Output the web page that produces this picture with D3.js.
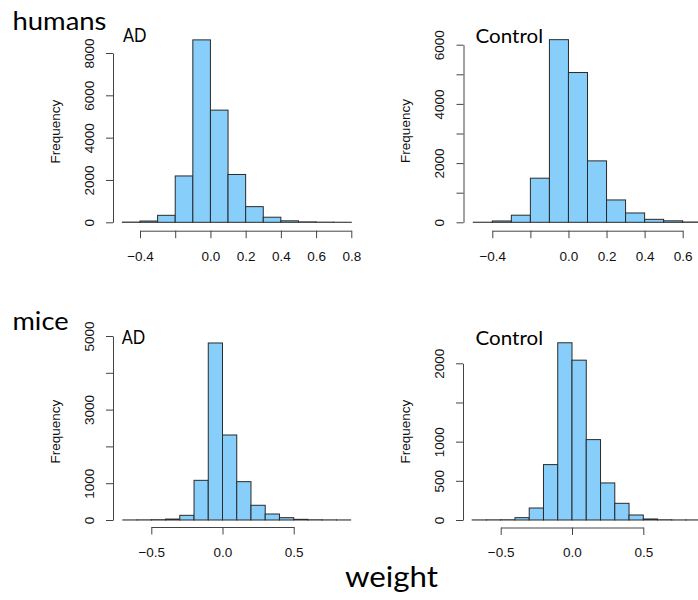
<!DOCTYPE html>
<html><head><meta charset="utf-8">
<script src="https://cdn.jsdelivr.net/npm/d3@7"></script>
<style>body{margin:0;background:#fff;overflow:hidden}</style>
</head><body>
<svg id="chart" width="698" height="600"></svg>
<script>
// ---- data ----
const humansADEdges = [-0.5,-0.4,-0.3,-0.2,-0.1,0.0,0.1,0.2,0.3,0.4,0.5,0.6,0.7,0.8];
const humansADCounts = [10,60,330,2190,8620,5300,2260,740,240,70,20,8,3];
const humansControlEdges = [-0.5,-0.4,-0.3,-0.2,-0.1,0.0,0.1,0.2,0.3,0.4,0.5,0.6,0.7];
const humansControlCounts = [3,45,240,1490,6170,5060,2075,755,315,100,50,10];
const miceEdges = [-0.7,-0.6,-0.5,-0.4,-0.3,-0.2,-0.1,0.0,0.1,0.2,0.3,0.4,0.5,0.6,0.7,0.8,0.9];
const miceADCounts = [2,4,8,25,127,1078,4810,2310,1042,400,163,63,18,6,3,2];
const miceControlCounts = [1,2,3,30,153,707,2262,2040,1026,473,213,64,13,3,1,1];

const humansADYTicks = [0,2000,4000,6000,8000];
const humansADYLabels = [0,2000,4000,6000,8000];
const humansADXTicks = [-0.4,-0.2,0.0,0.2,0.4,0.6,0.8];
const humansADXLabels = [-0.4,0.0,0.2,0.4,0.6,0.8];
const humansControlYTicks = [0,1000,2000,3000,4000,5000,6000];
const humansControlYLabels = [0,2000,4000,6000];
const humansControlXTicks = [-0.4,-0.2,0.0,0.2,0.4,0.6];
const humansControlXLabels = [-0.4,0.0,0.2,0.4,0.6];
const miceADYTicks = [0,1000,2000,3000,4000,5000];
const miceADYLabels = [0,1000,3000,5000];
const miceControlYTicks = [0,500,1000,1500,2000];
const miceControlYLabels = [0,500,1000,2000];
const miceXTicks = [-0.5,0.0,0.5];
const miceXLabels = [-0.5,0.0,0.5];

const groupLabels = ["humans","mice"];
const panelTitles = ["AD","Control","AD","Control"];
const yTitle = "Frequency";
const xTitle = "weight";

// ---- layout ----
const panels = [
  {edges:humansADEdges, counts:humansADCounts, title:panelTitles[0],
   yTicks:humansADYTicks, yLabels:humansADYLabels, xTicks:humansADXTicks, xLabels:humansADXLabels,
   xDomain:[-0.4,0.8], xRange:[140,351.3], yDomain:[0,8000], yRange:[222.3,53],
   axisX:113, axisY:230.7, yLabX:93.5, xLabY:261.5, freqX:60, freqY:131.7, titleX:123, titleY:41.7},
  {edges:humansControlEdges, counts:humansControlCounts, title:panelTitles[1],
   yTicks:humansControlYTicks, yLabels:humansControlYLabels, xTicks:humansControlXTicks, xLabels:humansControlXLabels,
   xDomain:[-0.4,0.6], xRange:[492.3,682.7], yDomain:[0,6000], yRange:[222.3,44.7],
   axisX:463.5, axisY:230.7, yLabX:443.5, xLabY:261.5, freqX:410, freqY:131, titleX:475.5, titleY:42.7},
  {edges:miceEdges, counts:miceADCounts, title:panelTitles[2],
   yTicks:miceADYTicks, yLabels:miceADYLabels, xTicks:miceXTicks, xLabels:miceXLabels,
   xDomain:[-0.5,0.5], xRange:[151.3,293.7], yDomain:[0,5000], yRange:[520,336],
   axisX:113, axisY:527, yLabX:94, xLabY:556.5, freqX:60, freqY:431.7, titleX:121.7, titleY:344.3},
  {edges:miceEdges, counts:miceControlCounts, title:panelTitles[3],
   yTicks:miceControlYTicks, yLabels:miceControlYLabels, xTicks:miceXTicks, xLabels:miceXLabels,
   xDomain:[-0.5,0.5], xRange:[500.7,643.3], yDomain:[0,2000], yRange:[520,363.3],
   axisX:463, axisY:527.5, yLabX:444, xLabY:556.5, freqX:410, freqY:431.7, titleX:475.5, titleY:345}
];

const svg = d3.select("#chart");
const tickFont = "'Liberation Sans', Arial, Helvetica, sans-serif";
const titleFont = "Lato, 'Open Sans', sans-serif";
const fmt = d => d === 0 ? "0.0" : d3.format(".1f")(d).replace("-", "\u2212");

panels.forEach((p, i) => {
  const x = d3.scaleLinear().domain(p.xDomain).range(p.xRange);
  const y = d3.scaleLinear().domain(p.yDomain).range(p.yRange);
  const g = svg.append("g");

  // bars
  const bins = p.counts.map((c, j) => ({x0:p.edges[j], x1:p.edges[j+1], n:c}));
  g.selectAll("rect.bar").data(bins).join("rect")
    .attr("class","bar")
    .attr("x", d => x(d.x0))
    .attr("width", d => x(d.x1) - x(d.x0))
    .attr("y", d => y(d.n))
    .attr("height", d => y(0) - y(d.n))
    .attr("fill", "#87cefa")
    .attr("stroke", "#2a2a2a")
    .attr("stroke-width", 1);

  // y axis
  const ya = g.append("g").attr("transform", `translate(${p.axisX},0)`)
    .call(d3.axisLeft(y).tickValues(p.yTicks).tickSize(7).tickSizeOuter(0)
      .tickFormat(d => p.yLabels.includes(d) ? String(d) : ""));
  ya.select(".domain").attr("stroke", "#444");
  ya.selectAll(".tick line").attr("stroke", "#444");
  ya.selectAll(".tick text")
    .attr("x", 0).attr("dy", 0)
    .attr("transform", `translate(${p.yLabX - p.axisX},0) rotate(-90)`)
    .attr("text-anchor", "middle")
    .attr("fill", "#111")
    .style("font-family", tickFont).style("font-size", "13.5px");

  // x axis
  const xa = g.append("g").attr("transform", `translate(0,${p.axisY})`)
    .call(d3.axisBottom(x).tickValues(p.xTicks).tickSize(7.5).tickSizeOuter(0)
      .tickFormat(d => p.xLabels.some(v => Math.abs(v - d) < 1e-9) ? fmt(d) : ""));
  xa.select(".domain").attr("stroke", "#444");
  xa.selectAll(".tick line").attr("stroke", "#444");
  xa.selectAll(".tick text")
    .attr("y", p.xLabY - p.axisY).attr("dy", 0)
    .attr("fill", "#111")
    .style("font-family", tickFont).style("font-size", "13.5px");

  // Frequency label
  g.append("text")
    .attr("transform", `translate(${p.freqX},${p.freqY}) rotate(-90)`)
    .attr("text-anchor", "middle")
    .attr("fill", "#111")
    .style("font-family", tickFont).style("font-size", "13.5px")
    .text(yTitle);

  // panel title
  g.append("text")
    .attr("x", p.titleX).attr("y", p.titleY)
    .attr("fill", "#000")
    .attr("textLength", p.title === "AD" ? 23.5 : 67.5)
    .attr("lengthAdjust", "spacingAndGlyphs")
    .style("font-family", titleFont).style("font-size", "19.5px")
    .text(p.title);
});

// group labels
svg.append("text").attr("x", 12.5).attr("y", 30)
  .attr("textLength", 94).attr("lengthAdjust", "spacingAndGlyphs")
  .attr("fill", "#000")
  .style("font-family", titleFont).style("font-size", "25.5px")
  .text(groupLabels[0]);
svg.append("text").attr("x", 12.5).attr("y", 330)
  .attr("textLength", 56).attr("lengthAdjust", "spacingAndGlyphs")
  .attr("fill", "#000")
  .style("font-family", titleFont).style("font-size", "25.5px")
  .text(groupLabels[1]);
svg.append("text").attr("x", 345).attr("y", 587)
  .attr("textLength", 93).attr("lengthAdjust", "spacingAndGlyphs")
  .attr("fill", "#000")
  .style("font-family", titleFont).style("font-size", "28.5px")
  .text(xTitle);
</script>
</body></html>
